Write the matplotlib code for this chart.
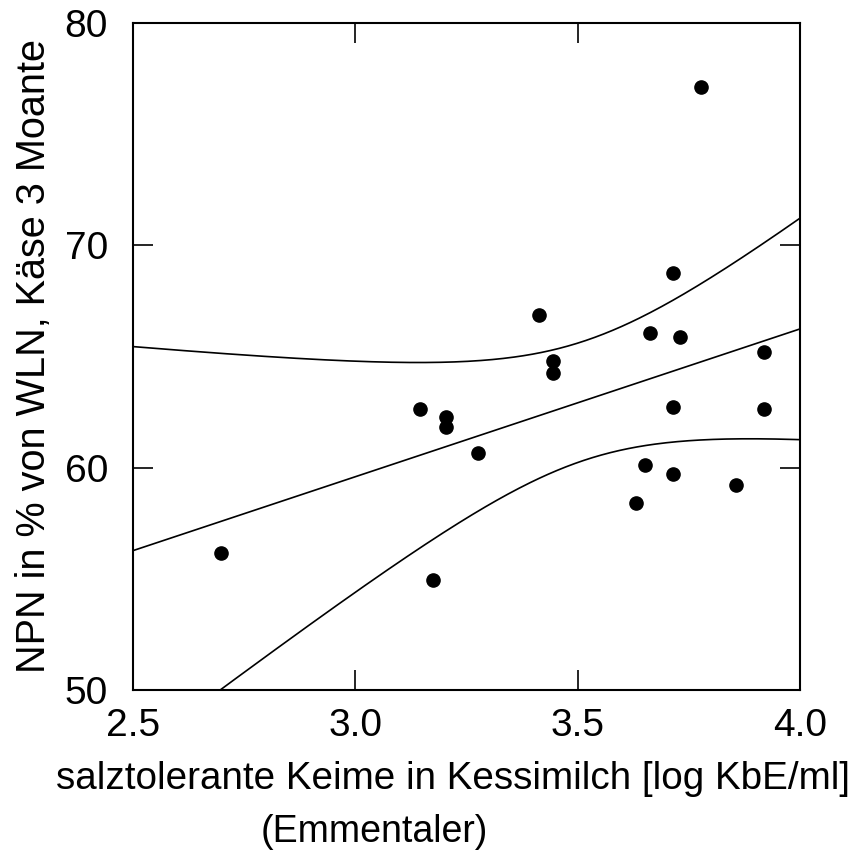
import numpy as np
import matplotlib
matplotlib.use("Agg")
import matplotlib.pyplot as plt

plt.rcParams['font.family'] = ['Liberation Sans', 'DejaVu Sans']

# data
keime = [3.777, 3.715, 3.413, 3.662, 3.731, 3.918, 3.445, 3.445,
         3.145, 3.203, 3.203, 3.715, 3.918, 3.276, 3.652, 3.715,
         3.855, 3.632, 2.698, 3.175]
npn = [77.13, 68.76, 66.87, 66.07, 65.87, 65.18, 64.78, 64.28,
       62.63, 62.26, 61.84, 62.74, 62.63, 60.64, 60.13, 59.73,
       59.24, 58.43, 56.14, 54.93]

xticks = [2.5, 3.0, 3.5, 4.0]
yticks = [50, 60, 70, 80]

x = np.array(keime)
y = np.array(npn)

# linear fit + Working-Hotelling 95% band
n = len(x)
b1, b0 = np.polyfit(x, y, 1)
resid = y - (b0 + b1 * x)
s = np.sqrt(np.sum(resid**2) / (n - 2))
w_val = np.sqrt(2 * 3.5546)  # sqrt(2 * F(0.95; 2, 18))
xx = np.linspace(2.5, 4.0, 300)
fit = b0 + b1 * xx
se = s * np.sqrt(1.0 / n + (xx - x.mean())**2 / np.sum((x - x.mean())**2))

fig = plt.figure(figsize=(8.54, 8.52), dpi=100)
ax = fig.add_axes([133 / 854, 1 - 690 / 852, 667 / 854, 667 / 852])

ax.plot(xx, fit, color='black', lw=1.2)
ax.plot(xx, fit + w_val * se, color='black', lw=1.2)
ax.plot(xx, fit - w_val * se, color='black', lw=1.2)
ax.plot(x, y, 'o', color='black', ms=9.5, zorder=3)

ax.set_xlim(2.5, 4.0)
ax.set_ylim(50, 80)
ax.set_xticks(xticks)
ax.set_xticklabels([f"{v:.1f}" for v in xticks])
ax.set_yticks(yticks)
ax.tick_params(direction='in', length=14.4, width=1.2, top=True, right=True,
               labelsize=28)
ax.tick_params(axis='x', pad=13)
ax.tick_params(axis='y', pad=18)
for sp in ax.spines.values():
    sp.set_linewidth(1.5)

fig.text(34 / 854, 1 - 356 / 852, "NPN in % von WLN, Käse 3 Moante",
         rotation=90, ha='center', va='center', fontsize=28.5)
fig.text(453 / 854, 1 - 779 / 852, "salztolerante Keime in Kessimilch [log KbE/ml]",
         ha='center', va='center', fontsize=27.8)
fig.text(374 / 854, 1 - 832 / 852, "(Emmentaler)",
         ha='center', va='center', fontsize=27)

fig.savefig("out.png", dpi=100)
